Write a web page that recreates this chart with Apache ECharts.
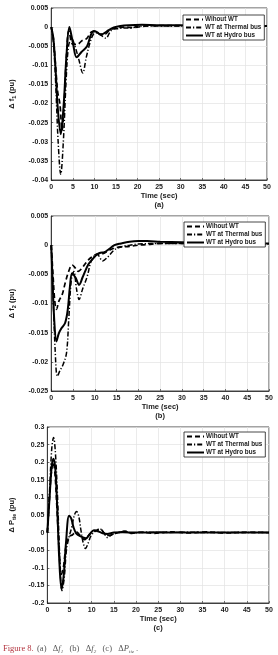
<!DOCTYPE html>
<html>
<head>
<meta charset="utf-8">
<script src="https://cdn.jsdelivr.net/npm/echarts@6/dist/echarts.min.js"></script>
<style>
  html, body { margin: 0; padding: 0; background: #fff; }
  #chart { width: 278px; height: 655px; }
</style>
</head>
<body>
<div id="chart"></div>
<script>
// legend names (spelling as in the figure)
const seriesNames = ['Wihout WT', 'WT at Thermal bus', 'WT at Hydro bus'];

// (a) delta f1
const f1NoWtT = [0, 0.5, 1, 1.5, 2, 2.5, 3, 3.5, 4.1, 5, 6, 7.2, 8.2, 9.5, 10.3, 11.3, 12.5, 13.5, 15, 17, 19, 22, 25, 30, 40, 50];
const f1NoWtV = [0, -0.003, -0.01, -0.017, -0.02, -0.027, -0.02, -0.008, -0.001, -0.0045, -0.0045, -0.0035, -0.003, -0.0012, -0.0012, -0.0018, -0.0018, -0.0008, -0.0002, 0, -0.0001, 0.0003, 0.0004, 0.0004, 0.0003, 0.0003];
const f1ThermalT = [0, 0.5, 1, 1.6, 2.2, 2.8, 3.4, 4, 4.7, 5.5, 6.4, 7.3, 8.1, 9, 9.8, 10.5, 11.4, 12.7, 13.5, 14.2, 15.5, 17, 18.5, 20, 25, 30, 40, 50];
const f1ThermalV = [0, -0.004, -0.014, -0.03, -0.0385, -0.03, -0.015, -0.005, -0.003, -0.005, -0.0085, -0.012, -0.008, -0.004, -0.0018, -0.0015, -0.002, -0.0029, -0.0015, -0.0006, -0.0004, -0.0002, -0.0003, 0.0002, 0.0003, 0.0003, 0.0003, 0.0003];
const f1HydroT = [0, 0.5, 1, 1.5, 2.2, 2.9, 3.5, 4.2, 5, 5.9, 7, 8.3, 9.2, 9.9, 10.6, 11.5, 12.4, 13.3, 14.5, 16, 18, 21, 25, 30, 35, 40, 45, 50];
const f1HydroV = [0, -0.003, -0.011, -0.021, -0.028, -0.02, -0.008, 0, -0.004, -0.0079, -0.0065, -0.005, -0.002, -0.001, -0.0013, -0.002, -0.0015, -0.0008, -0.0001, 0.0003, 0.0005, 0.0006, 0.0005, 0.0005, 0.0004, 0.0004, 0.0003, 0.0003];

// (b) delta f2
const f2NoWtT = [0, 0.4, 0.8, 1.2, 1.8, 2.5, 3.2, 4, 4.8, 5.4, 6.2, 7, 8, 9, 10, 11, 12, 13, 14.5, 16, 18, 20, 22, 25, 30, 40, 50];
const f2NoWtV = [0, -0.005, -0.0095, -0.011, -0.0095, -0.0085, -0.0065, -0.0045, -0.0034, -0.0038, -0.0045, -0.004, -0.003, -0.0022, -0.0017, -0.0015, -0.0014, -0.001, -0.0005, -0.0003, -0.0002, 0, 0.0001, 0.0003, 0.0003, 0.0002, 0.0002];
const f2ThermalT = [0, 0.4, 0.9, 1.4, 2, 2.7, 3.5, 4, 4.6, 5.2, 5.8, 6.4, 7.2, 8.2, 9.3, 10.5, 11.8, 13, 14.5, 16, 18, 20, 25, 30, 40, 50];
const f2ThermalV = [0, -0.008, -0.018, -0.0225, -0.0215, -0.0205, -0.0185, -0.013, -0.006, -0.0045, -0.0075, -0.0093, -0.0075, -0.0055, -0.0025, -0.0015, -0.0027, -0.002, -0.0008, -0.0003, 0, 0.0002, 0.0003, 0.0003, 0.0002, 0.0002];
const f2HydroT = [0, 0.3, 0.7, 1.2, 1.7, 2.3, 3.2, 3.8, 4.3, 4.8, 5.6, 6.4, 7.2, 8.5, 9.5, 10.5, 11.3, 12.2, 13.2, 14.5, 16, 18, 20, 22, 25, 30, 35, 40, 45, 50];
const f2HydroV = [0, -0.006, -0.013, -0.0165, -0.0152, -0.0143, -0.0133, -0.011, -0.007, -0.0048, -0.0056, -0.0068, -0.0055, -0.0033, -0.0024, -0.0016, -0.0013, -0.0012, -0.0007, 0, 0.0003, 0.0006, 0.0007, 0.0007, 0.0006, 0.0005, 0.0004, 0.0004, 0.0003, 0.0003];

// (c) delta P tie
const pNoWtT = [0, 0.5, 0.9, 1.3, 1.7, 2.2, 2.7, 3.1, 3.6, 4.2, 4.9, 5.7, 6.5, 7.4, 8.4, 9.3, 10.3, 11.2, 12, 13, 14, 15.5, 17.5, 19, 21, 24, 28, 32, 36, 40, 45, 50];
const pNoWtV = [0, 0.1, 0.17, 0.2, 0.17, 0.06, -0.06, -0.12, -0.1, -0.04, -0.012, -0.006, 0.002, -0.008, -0.02, -0.008, 0.004, 0.006, 0.009, -0.004, -0.008, -0.002, 0.004, -0.002, 0.001, -0.002, 0.002, -0.001, 0.002, -0.001, 0.001, 0];
const pThermalT = [0, 0.5, 1, 1.4, 1.8, 2.3, 2.8, 3.3, 3.8, 4.3, 4.9, 5.5, 6.1, 6.6, 7.1, 7.6, 8.1, 8.6, 9.2, 9.8, 10.6, 11.2, 11.8, 12.5, 13.6, 14.5, 16, 17.5, 19, 22, 25, 30, 40, 50];
const pThermalV = [0, 0.12, 0.24, 0.27, 0.23, 0.1, -0.07, -0.165, -0.13, -0.05, -0.012, 0.015, 0.05, 0.06, 0.045, 0.005, -0.03, -0.045, -0.03, -0.01, 0.002, 0.007, 0.011, 0.004, -0.014, -0.006, 0, 0.003, -0.001, 0.001, 0, 0.001, 0, 0];
const pHydroT = [0, 0.5, 1, 1.4, 1.8, 2.2, 2.7, 3.2, 3.7, 4.2, 4.9, 5.4, 5.9, 6.5, 7.4, 8.7, 9.6, 10.5, 11.4, 12.5, 13.5, 15, 17, 20, 25, 30, 40, 50];
const pHydroV = [0, 0.1, 0.19, 0.21, 0.18, 0.08, -0.08, -0.16, -0.12, -0.03, 0.048, 0.04, 0.015, -0.002, -0.01, -0.016, -0.004, 0.007, 0.004, -0.002, -0.004, 0, 0.001, 0, 0.001, 0, 0, 0];

// axis ranges
const timeMax = 50;
const timeStep = 5;
const f1Range = [-0.04, 0.005, 0.005];
const f2Range = [-0.025, 0.005, 0.005];
const pRange = [-0.2, 0.3, 0.05];

const ink = '#1a1a1a';
const font = 'Liberation Sans';
const styles = [
  { type: [5, 3], width: 1.7 },
  { type: [5, 2, 1.2, 2], width: 1.5 },
  { type: 'solid', width: 2 }
];

const pair = (t, v) => t.map((x, i) => [x, v[i]]);

const grids = [
  { left: 42, right: 11, top: 8, height: 172 },
  { left: 40, right: 9, top: 216, height: 175 },
  { left: 40, right: 9, top: 427, height: 176 }
];

const panelData = [
  [pair(f1NoWtT, f1NoWtV), pair(f1ThermalT, f1ThermalV), pair(f1HydroT, f1HydroV)],
  [pair(f2NoWtT, f2NoWtV), pair(f2ThermalT, f2ThermalV), pair(f2HydroT, f2HydroV)],
  [pair(pNoWtT, pNoWtV), pair(pThermalT, pThermalV), pair(pHydroT, pHydroV)]
];
const ranges = [f1Range, f2Range, pRange];
const panelTags = ['(a)', '(b)', '(c)'];
const yNames = [
  '{t|Δ f}{s|1}{t| (pu)}',
  '{t|Δ f}{s|2}{t| (pu)}',
  '{t|Δ P}{s|tie}{t| (pu)}'
];
const legendPos = [
  { left: 183, top: 15 },
  { left: 184, top: 222 },
  { left: 184, top: 432 }
];

const nameRich = {
  t: { fontFamily: font, fontWeight: 'bold', fontSize: 7.5, color: ink },
  s: { fontFamily: font, fontWeight: 'bold', fontSize: 5.5, color: ink, padding: [5, 0, 0, 0] }
};

const xAxis = grids.map((g, i) => ({
  type: 'value',
  gridIndex: i,
  min: 0,
  max: timeMax,
  interval: timeStep,
  name: 'Time (sec)\n' + panelTags[i],
  nameLocation: 'middle',
  nameGap: 12,
  nameTextStyle: { fontFamily: font, fontWeight: 'bold', fontSize: 7.5, color: ink, lineHeight: 8.5 },
  axisLine: { show: true, onZero: false, lineStyle: { color: ink, width: 0.8 } },
  axisTick: { show: true, inside: true, length: 2, lineStyle: { color: ink, width: 0.6 } },
  axisLabel: { fontFamily: font, fontWeight: 'bold', fontSize: 7, color: ink, margin: 4 },
  splitLine: { show: true, lineStyle: { color: '#e2e2e2', width: 0.7 } }
}));

const yAxis = grids.map((g, i) => ({
  type: 'value',
  gridIndex: i,
  min: ranges[i][0],
  max: ranges[i][1],
  interval: ranges[i][2],
  name: yNames[i],
  nameLocation: 'middle',
  nameGap: i === 0 ? 30 : 27,
  nameRotate: 90,
  nameTextStyle: { rich: nameRich },
  axisLine: { show: true, lineStyle: { color: ink, width: 0.8 } },
  axisTick: { show: true, inside: true, length: 2, lineStyle: { color: ink, width: 0.6 } },
  axisLabel: { fontFamily: font, fontWeight: 'bold', fontSize: 7, color: ink, margin: 3 },
  splitLine: { show: true, lineStyle: { color: '#e2e2e2', width: 0.7 } }
}));

const series = [];
panelData.forEach((lines, p) => {
  lines.forEach((d, k) => {
    series.push({
      name: seriesNames[k],
      type: 'line',
      xAxisIndex: p,
      yAxisIndex: p,
      data: d,
      smooth: 0.35,
      symbol: 'none',
      lineStyle: { color: '#000', type: styles[k].type, width: styles[k].width },
      itemStyle: { color: '#000' }
    });
  });
});

const legend = legendPos.map(pos => ({
  left: pos.left,
  top: pos.top,
  orient: 'vertical',
  data: seriesNames,
  itemWidth: 17,
  itemHeight: 7,
  itemGap: 1,
  padding: [1, 3, 1, 2],
  backgroundColor: '#fff',
  borderColor: ink,
  borderWidth: 0.8,
  borderRadius: 0,
  selectedMode: false,
  z: 20,
  itemStyle: { opacity: 0 },
  textStyle: { fontFamily: font, fontWeight: 'bold', fontSize: 6.3, lineHeight: 7, color: ink, padding: [0, 0, 0, -3] }
}));

const chart = echarts.init(document.getElementById('chart'), null, { renderer: 'canvas' });
chart.setOption({
  animation: false,
  backgroundColor: '#fff',
  grid: grids.map(g => Object.assign({ show: true, borderColor: ink, borderWidth: 0.8, backgroundColor: '#fff' }, g)),
  xAxis: xAxis,
  yAxis: yAxis,
  legend: legend,
  series: series,
  graphic: [{
    type: 'text',
    left: 3,
    top: 643,
    style: {
      text: '{r|Figure 8.} {g|(a)   Δ}{i|f}{b|1}{g|   (b)   Δ}{i|f}{b|2}{g|   (c)   Δ}{i|P}{b|tie}{g| .}',
      rich: {
        r: { fontFamily: 'Liberation Serif', fontSize: 8.5, fill: '#b3343f' },
        g: { fontFamily: 'Liberation Serif', fontSize: 8.5, fill: '#555' },
        i: { fontFamily: 'Liberation Serif', fontSize: 8.5, fontStyle: 'italic', fill: '#555' },
        b: { fontFamily: 'Liberation Serif', fontSize: 5, fontStyle: 'italic', fill: '#555', padding: [5, 0, 0, 0] }
      }
    }
  }]
});
window.addEventListener('resize', () => chart.resize());
</script>
</body>
</html>
